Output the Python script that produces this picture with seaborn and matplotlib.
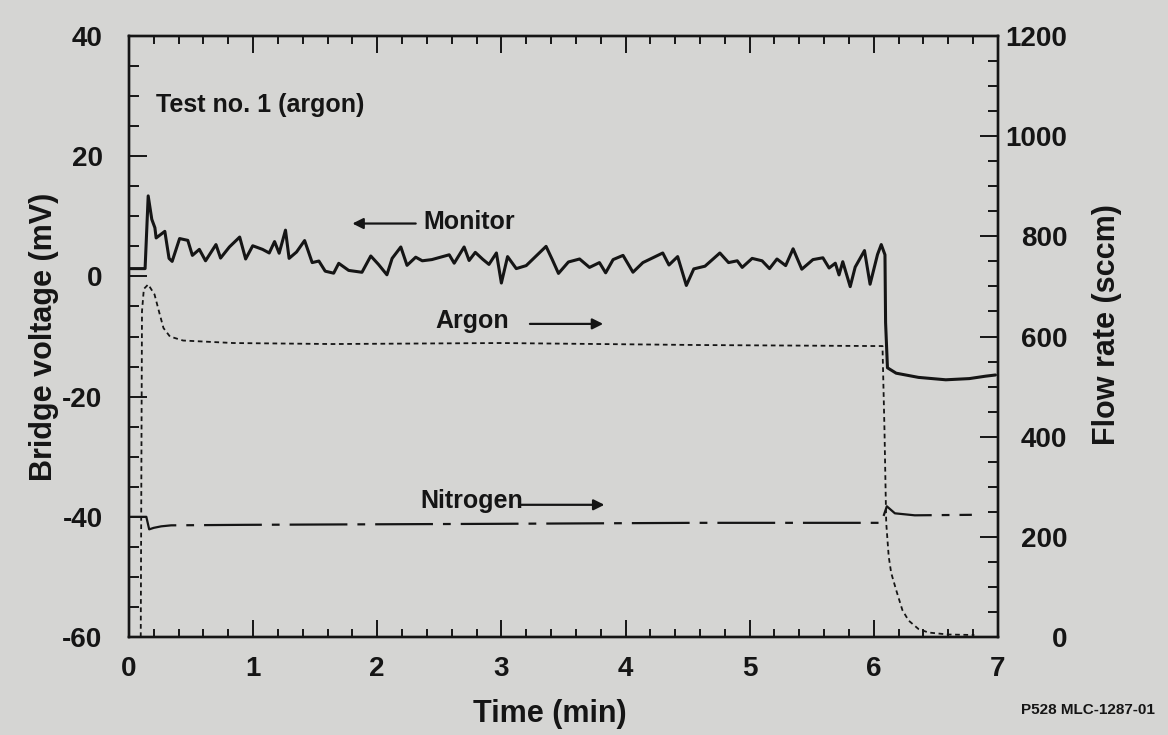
import numpy as np
import pandas as pd
import matplotlib
matplotlib.use("Agg")
import matplotlib.pyplot as plt
import seaborn as sns
from matplotlib.ticker import MultipleLocator

# ---------------- data ----------------
# Monitor bridge voltage (mV, left axis) vs time (min)
mon_t = [0.0, 0.13, 0.155, 0.184, 0.209, 0.219, 0.289, 0.323, 0.348, 0.408,
         0.474, 0.511, 0.567, 0.617, 0.701, 0.738, 0.809, 0.892, 0.94, 0.997,
         1.076, 1.13, 1.173, 1.21, 1.261, 1.29, 1.35, 1.415, 1.476, 1.53,
         1.581, 1.649, 1.69, 1.77, 1.877, 1.948, 2.01, 2.078, 2.12, 2.19,
         2.24, 2.31, 2.363, 2.44, 2.58, 2.62, 2.70, 2.74, 2.79, 2.85,
         2.90, 2.96, 3.0, 3.05, 3.12, 3.2, 3.28, 3.36, 3.41, 3.46,
         3.54, 3.63, 3.71, 3.79, 3.84, 3.9, 3.98, 4.06, 4.14, 4.22,
         4.30, 4.35, 4.42, 4.49, 4.55, 4.64, 4.76, 4.83, 4.90, 4.94,
         5.02, 5.10, 5.16, 5.22, 5.29, 5.35, 5.42, 5.51, 5.59, 5.64,
         5.69, 5.72, 5.75, 5.81, 5.85, 5.925, 5.97, 6.03, 6.06, 6.09,
         6.095, 6.11, 6.18, 6.36, 6.58, 6.77, 6.90, 6.98]
mon_mv = [1.3, 1.3, 13.4, 9.5, 8.1, 6.4, 7.5, 3.0, 2.5, 6.3,
          6.0, 3.5, 4.5, 2.6, 5.3, 3.05, 4.9, 6.55, 2.9, 5.1,
          4.5, 3.9, 5.8, 3.86, 7.7, 3.0, 4.06, 5.97, 2.3, 2.56,
          0.87, 0.54, 2.18, 1.0, 0.69, 3.4, 2.0, 0.27, 3.0, 4.9,
          1.84, 3.2, 2.6, 2.8, 3.6, 2.2, 4.9, 2.65, 4.0, 2.85,
          2.0, 3.9, -1.1, 3.3, 1.3, 1.8, 3.4, 5.0, 2.8, 0.5,
          2.4, 2.9, 1.5, 2.3, 0.6, 2.8, 3.5, 0.7, 2.3, 3.1,
          3.9, 1.9, 3.3, -1.5, 1.25, 1.7, 3.9, 2.3, 2.6, 1.5,
          3.0, 2.6, 1.3, 2.9, 1.8, 4.6, 1.2, 2.8, 3.1, 1.4,
          2.2, 0.25, 2.45, -1.7, 1.55, 4.3, -1.3, 3.65, 5.3, 3.6,
          -7.7, -15.2, -16.1, -16.8, -17.2, -17.0, -16.6, -16.4]

# Argon flow (sccm, right axis)
ar_t = [0.095, 0.105, 0.12, 0.155, 0.206, 0.242, 0.278, 0.33, 0.436, 0.84,
        1.64, 2.99, 4.6, 6.01, 6.07, 6.086, 6.095, 6.10, 6.12, 6.14,
        6.18, 6.23, 6.28, 6.36, 6.44, 6.6, 6.81]
ar_sccm = [0, 650, 695, 704, 684, 650, 617, 600, 592, 587,
           585, 587, 583, 581, 581, 414, 294, 228, 161, 128,
           94, 54, 33, 16, 9, 5, 4]

# Nitrogen flow (sccm, right axis)
n2_t = [0.0, 0.14, 0.163, 0.2, 0.26, 0.34, 0.93, 1.9, 2.94, 4.56,
        5.85, 6.06, 6.105, 6.17, 6.33, 6.79]
n2_sccm = [240, 240, 215, 218, 221, 223, 224, 225, 226, 228,
           228, 228, 261, 247, 243, 244]

x_ticks = [0, 1, 2, 3, 4, 5, 6, 7]
left_ticks = [-60, -40, -20, 0, 20, 40]
right_ticks = [0, 200, 400, 600, 800, 1000, 1200]

# ---------------- style ----------------
sns.set_theme(style="ticks")
bg = "#d5d5d3"
ink = "#151515"
plt.rcParams["font.family"] = ["Liberation Sans", "DejaVu Sans"]
plt.rcParams["font.weight"] = "bold"
plt.rcParams["axes.unicode_minus"] = False
plt.rcParams["text.color"] = ink
plt.rcParams["axes.labelcolor"] = ink
plt.rcParams["xtick.color"] = ink
plt.rcParams["ytick.color"] = ink
plt.rcParams["axes.edgecolor"] = ink

fig = plt.figure(figsize=(11.68, 7.35), dpi=100, facecolor=bg)
ax = fig.add_axes([0.1104, 0.1333, 0.744, 0.8177])
ax.set_facecolor(bg)
ax2 = ax.twinx()

mon = pd.DataFrame({"t": mon_t, "v": mon_mv})
ar = pd.DataFrame({"t": ar_t, "v": ar_sccm})
n2 = pd.DataFrame({"t": n2_t, "v": n2_sccm})

sns.lineplot(data=mon, x="t", y="v", ax=ax, color=ink, lw=2.2,
             sort=False, estimator=None)
sns.lineplot(data=ar, x="t", y="v", ax=ax2, color=ink, lw=1.3,
             linestyle=(0, (2.6, 2.0)), sort=False, estimator=None)
sns.lineplot(data=n2, x="t", y="v", ax=ax2, color=ink, lw=1.6,
             linestyle=(0, (26, 4.5, 3.5, 4.5)), sort=False, estimator=None)

ax.set_xlim(0, 7)
ax.set_ylim(-60, 40)
ax2.set_ylim(0, 1200)

ax.set_xticks(x_ticks)
ax.xaxis.set_minor_locator(MultipleLocator(0.2))
ax.set_yticks(left_ticks)
ax.yaxis.set_minor_locator(MultipleLocator(5))
ax2.set_yticks(right_ticks)
ax2.yaxis.set_minor_locator(MultipleLocator(50))

for a in (ax, ax2):
    for s in a.spines.values():
        s.set_linewidth(1.7)
        s.set_color(ink)

ax.tick_params(axis="x", which="both", direction="in", top=True, bottom=True,
               width=1.4, labelsize=20, pad=14)
ax.tick_params(axis="x", which="major", length=12)
ax.tick_params(axis="x", which="minor", length=6)
ax.tick_params(axis="y", which="both", direction="in", left=True, right=False,
               width=1.4, labelsize=20, pad=19)
ax.tick_params(axis="y", which="major", length=13)
ax.tick_params(axis="y", which="minor", length=7)
ax2.tick_params(axis="y", which="both", direction="in", right=True, left=False,
                width=1.4, labelsize=20, pad=50)
ax2.tick_params(axis="y", which="major", length=13)
ax2.tick_params(axis="y", which="minor", length=7)
plt.setp(ax2.get_yticklabels(), ha="right")

ax.set_xlabel("Time (min)", fontsize=22, fontweight="bold")
ax.set_ylabel("Bridge voltage (mV)", fontsize=22, fontweight="bold")
ax2.set_ylabel("Flow rate (sccm)", fontsize=22, fontweight="bold")
ax.xaxis.set_label_coords(0.484, -0.103)
ax.yaxis.set_label_coords(-0.080, 0.5)
ax2.yaxis.set_label_coords(1.108, 0.52)

# annotations
ax.text(0.22, 28.5, "Test no. 1 (argon)", fontsize=18, fontweight="bold",
        va="center", ha="left")
ax.text(2.37, 9.1, "Monitor", fontsize=18, fontweight="bold", va="center", ha="left")
ax.annotate("", xy=(1.80, 8.8), xytext=(2.31, 8.8),
            arrowprops=dict(arrowstyle="-|>", color=ink, lw=1.6,
                            mutation_scale=16, shrinkA=0, shrinkB=0))
ax.text(2.47, -7.5, "Argon", fontsize=18, fontweight="bold", va="center", ha="left")
ax.annotate("", xy=(3.82, -7.9), xytext=(3.23, -7.9),
            arrowprops=dict(arrowstyle="-|>", color=ink, lw=1.6,
                            mutation_scale=16, shrinkA=0, shrinkB=0))
ax.text(2.35, -37.3, "Nitrogen", fontsize=18, fontweight="bold", va="center", ha="left")
ax.annotate("", xy=(3.83, -38.0), xytext=(3.15, -38.0),
            arrowprops=dict(arrowstyle="-|>", color=ink, lw=1.6,
                            mutation_scale=16, shrinkA=0, shrinkB=0))

fig.text(1088 / 1168, 1 - 710 / 735, "P528 MLC-1287-01", fontsize=11,
         fontweight="bold", ha="center", va="center")

fig.savefig("out.png", dpi=100, facecolor=bg)
